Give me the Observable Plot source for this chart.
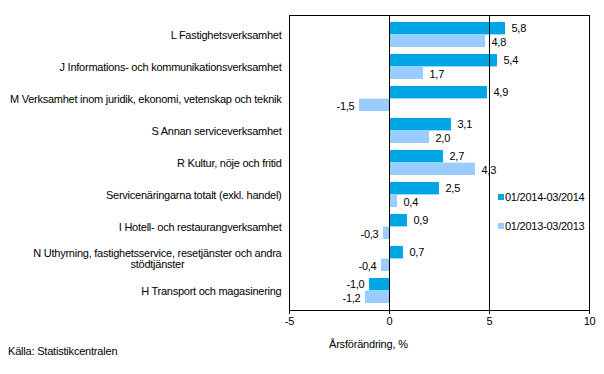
<!DOCTYPE html>
<html><head><meta charset="utf-8">
<script src="https://cdn.jsdelivr.net/npm/d3@7"></script>
<script src="https://cdn.jsdelivr.net/npm/@observablehq/plot@0.6"></script>
<style>
body{margin:0;background:#fff;font-family:"Liberation Sans",Arial,sans-serif;}
#wrap{position:relative;width:604px;height:374px;overflow:hidden;}
#wrap svg text{letter-spacing:-0.25px;}
.lg{position:absolute;left:498px;font-size:11px;letter-spacing:-0.25px;display:flex;align-items:center;white-space:nowrap;}
.lg i{display:inline-block;width:6px;height:6px;margin-right:1px;}
#caption{position:absolute;left:8px;top:345px;font-size:11px;letter-spacing:-0.2px;}
#xlabel{position:absolute;left:329px;top:338px;font-size:11px;letter-spacing:-0.2px;}
</style></head><body><div id="wrap"></div>
<script>
const categories = [
  "L Fastighetsverksamhet",
  "J Informations- och kommunikationsverksamhet",
  "M Verksamhet inom juridik, ekonomi, vetenskap och teknik",
  "S Annan serviceverksamhet",
  "R Kultur, nöje och fritid",
  "Servicenäringarna totalt (exkl. handel)",
  "I Hotell- och restaurangverksamhet",
  "N Uthyrning, fastighetsservice, resetjänster och andra\nstödtjänster",
  "H Transport och magasinering"
];
const series2014 = [5.8, 5.4, 4.9, 3.1, 2.7, 2.5, 0.9, 0.7, -1.0];
const series2013 = [4.8, 1.7, -1.5, 2.0, 4.3, 0.4, -0.3, -0.4, -1.2];
const seriesNames = ["01/2014-03/2014", "01/2013-03/2013"];
const xTicks = [-5, 0, 5, 10];
const gridLines = [0, 5];
const xLabel = "Årsförändring, %";
const sourceText = "Källa: Statistikcentralen";
const colors = ["#00A6E6", "#99CCFF"];

const rows = categories.map((c, i) => ({category: c, a: series2014[i], b: series2013[i]}));
const fmt = v => v.toFixed(1).replace(".", ",");
const band = d3.scaleBand(categories, [15, 310]).paddingInner(0.226).paddingOuter(0.14);
const half = band.bandwidth() / 2;
const font = '"Liberation Sans", Arial, sans-serif';

const chart = Plot.plot({
  width: 604, height: 352,
  marginLeft: 289, marginRight: 15, marginTop: 15, marginBottom: 42,
  style: {fontFamily: font, fontSize: "11px", color: "#000", background: "#fff"},
  x: {domain: [-5, 10]},
  y: {domain: categories, paddingInner: 0.226, paddingOuter: 0.14},
  marks: [
    Plot.barX(rows, {x: "a", y: "category", fill: colors[0], insetBottom: half}),
    Plot.barX(rows, {x: "b", y: "category", fill: colors[1], insetTop: half}),
    Plot.ruleX(gridLines, {stroke: "#000", strokeWidth: 1}),
    Plot.frame({stroke: "#000", strokeWidth: 1}),
    Plot.text(rows, {filter: d => d.a >= 0, x: "a", y: "category", dy: -half / 2, dx: 6, textAnchor: "start", text: d => fmt(d.a), fill: "#000"}),
    Plot.text(rows, {filter: d => d.a < 0, x: "a", y: "category", dy: -half / 2, dx: -5, textAnchor: "end", text: d => fmt(d.a), fill: "#000"}),
    Plot.text(rows, {filter: d => d.b >= 0, x: "b", y: "category", dy: half / 2 + 1, dx: 6, textAnchor: "start", text: d => fmt(d.b), fill: "#000"}),
    Plot.text(rows, {filter: d => d.b < 0, x: "b", y: "category", dy: half / 2 + 1, dx: -5, textAnchor: "end", text: d => fmt(d.b), fill: "#000"}),
    Plot.axisY({tickSize: 0, tickPadding: 8, label: null, fontSize: 11}),
    Plot.axisX({ticks: xTicks, tickSize: 4, tickPadding: 3, label: null, tickFormat: d => String(d).replace("−", "-"), fontSize: 11})
  ]
});

const wrap = document.getElementById("wrap");
wrap.appendChild(chart);

// center second line of multi-line y labels (as in reference)
chart.querySelectorAll("text").forEach(t => {
  const spans = t.querySelectorAll("tspan");
  if (spans.length > 1 && t.textContent.startsWith("N ")) {
    const w = spans[0].getComputedTextLength();
    t.setAttribute("text-anchor", "middle");
    spans.forEach(s => s.setAttribute("x", -w / 2));
  }
});

seriesNames.forEach((name, i) => {
  const d = document.createElement("div");
  d.className = "lg";
  d.style.top = (i === 0 ? 191 : 220) + "px";
  d.innerHTML = `<i style="background:${colors[i]}"></i><span></span>`;
  d.querySelector("span").textContent = name;
  wrap.appendChild(d);
});
const xl = document.createElement("div");
xl.id = "xlabel";
xl.textContent = xLabel;
wrap.appendChild(xl);
const cap = document.createElement("div");
cap.id = "caption";
cap.textContent = sourceText;
wrap.appendChild(cap);
</script>
</body></html>
